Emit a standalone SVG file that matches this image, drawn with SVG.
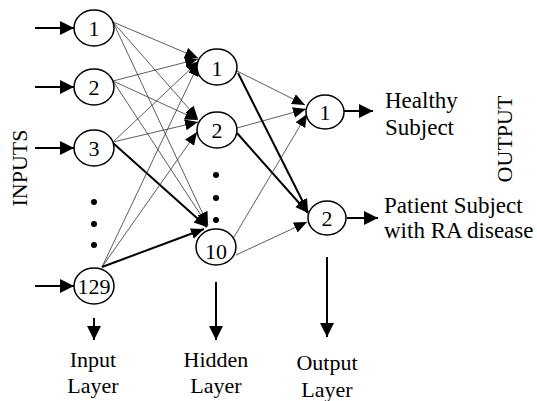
<svg xmlns="http://www.w3.org/2000/svg" width="537" height="401" viewBox="0 0 537 401">
<style>
  .node ellipse { fill: #fff; stroke: #000; stroke-width: 1.5; }
  .t { font-family: "Liberation Serif", "Times New Roman", Times, "DejaVu Serif", serif; font-size: 22px; fill: #000; }
  .big { font-size: 23px; }
  .lbl { text-anchor: middle; }
  .thin { stroke: #333; stroke-width: 0.8; fill: none; marker-end: url(#ah); }
  .thick { stroke: #000; stroke-width: 2; fill: none; marker-end: url(#ah); }
  .io { stroke: #000; stroke-width: 2; fill: none; marker-end: url(#big); }
  .dot { fill: #000; }
</style>
<defs>
  <marker id="ah" markerUnits="userSpaceOnUse" markerWidth="15" markerHeight="13" refX="13" refY="5.5" orient="auto">
    <path d="M0,0 L13,5.5 L0,11 z" fill="#000"/>
  </marker>
  <marker id="big" markerUnits="userSpaceOnUse" markerWidth="16" markerHeight="16" refX="14" refY="7" orient="auto">
    <path d="M0,0 L14,7 L0,14 z" fill="#000"/>
  </marker>
</defs>

<g id="connectors">
  <line class="io" x1="35" y1="28" x2="74" y2="28"/>
  <line class="io" x1="35" y1="87" x2="74" y2="87"/>
  <line class="io" x1="35" y1="148" x2="74" y2="148"/>
  <line class="io" x1="35" y1="286" x2="74" y2="286"/>
  <line class="thin" x1="113" y1="22" x2="198" y2="58"/>
  <line class="thin" x1="113" y1="22" x2="198" y2="119"/>
  <line class="thin" x1="113" y1="22" x2="208" y2="225"/>
  <line class="thin" x1="113" y1="81" x2="198" y2="59"/>
  <line class="thin" x1="113" y1="81" x2="198" y2="120"/>
  <line class="thin" x1="113" y1="81" x2="208" y2="226"/>
  <line class="thin" x1="113" y1="142" x2="199" y2="61"/>
  <line class="thin" x1="113" y1="142" x2="198" y2="122"/>
  <line class="thick" x1="113" y1="143" x2="207" y2="227"/>
  <line class="thin" x1="102" y1="267" x2="199" y2="63"/>
  <line class="thin" x1="102" y1="267" x2="197" y2="132"/>
  <line class="thick" x1="102" y1="267" x2="204" y2="229"/>
  <line class="thin" x1="237" y1="71" x2="305" y2="105"/>
  <line class="thick" x1="238" y1="73" x2="308" y2="212"/>
  <line class="thin" x1="237" y1="128" x2="306" y2="109"/>
  <line class="thick" x1="237" y1="133" x2="308" y2="213"/>
  <line class="thin" x1="234" y1="237" x2="307" y2="114"/>
  <line class="thin" x1="236" y1="255" x2="307" y2="222"/>
  <line class="io" x1="344" y1="111" x2="373" y2="111"/>
  <line class="io" x1="347" y1="218" x2="378" y2="218"/>
  <line class="io" x1="94" y1="318" x2="94" y2="340"/>
  <line class="io" x1="216" y1="282" x2="216" y2="340"/>
  <line class="io" x1="327" y1="257" x2="327" y2="337"/>
</g>

<g id="in1" class="node"><ellipse cx="94" cy="28" rx="20" ry="18"/><text class="t lbl" x="94" y="36">1</text></g>
<g id="in2" class="node"><ellipse cx="94" cy="87" rx="20" ry="18"/><text class="t lbl" x="94" y="95">2</text></g>
<g id="in3" class="node"><ellipse cx="94" cy="148" rx="20" ry="18"/><text class="t lbl" x="94" y="156">3</text></g>
<g id="in129" class="node"><ellipse cx="94" cy="286" rx="20" ry="18"/><text class="t lbl" x="94" y="294">129</text></g>
<g id="in-dots">
  <circle class="dot" cx="94" cy="202" r="3"/>
  <circle class="dot" cx="94" cy="224" r="3"/>
  <circle class="dot" cx="94" cy="245" r="3"/>
</g>

<g id="h1" class="node"><ellipse cx="217" cy="67" rx="20" ry="18"/><text class="t lbl" x="217" y="76">1</text></g>
<g id="h2" class="node"><ellipse cx="217" cy="130" rx="20" ry="18"/><text class="t lbl" x="217" y="138">2</text></g>
<g id="h10" class="node"><ellipse cx="216" cy="247" rx="20" ry="18"/><text class="t lbl" x="216" y="259">10</text></g>
<g id="h-dots">
  <circle class="dot" cx="216" cy="175" r="3"/>
  <circle class="dot" cx="216" cy="198" r="3"/>
  <circle class="dot" cx="216" cy="220" r="3"/>
</g>

<g id="o1" class="node"><ellipse cx="325" cy="112" rx="19" ry="17"/><text class="t lbl" x="325" y="120">1</text></g>
<g id="o2" class="node"><ellipse cx="327" cy="218" rx="19" ry="17"/><text class="t lbl" x="327" y="226">2</text></g>

<g id="labels">
  <text class="t big" x="385" y="108">Healthy</text>
  <text class="t big" x="385" y="135">Subject</text>
  <text class="t big" x="384" y="213">Patient Subject</text>
  <text class="t big" x="384" y="238">with RA disease</text>
  <text class="t lbl" transform="translate(27,168) rotate(-90)">INPUTS</text>
  <text class="t lbl" transform="translate(512,139) rotate(-90)">OUTPUT</text>
  <text class="t lbl" x="93" y="367">Input</text>
  <text class="t lbl" x="93" y="393">Layer</text>
  <text class="t lbl" x="216" y="367">Hidden</text>
  <text class="t lbl" x="216" y="393">Layer</text>
  <text class="t lbl" x="327" y="370">Output</text>
  <text class="t lbl" x="327" y="397">Layer</text>
</g>
</svg>
